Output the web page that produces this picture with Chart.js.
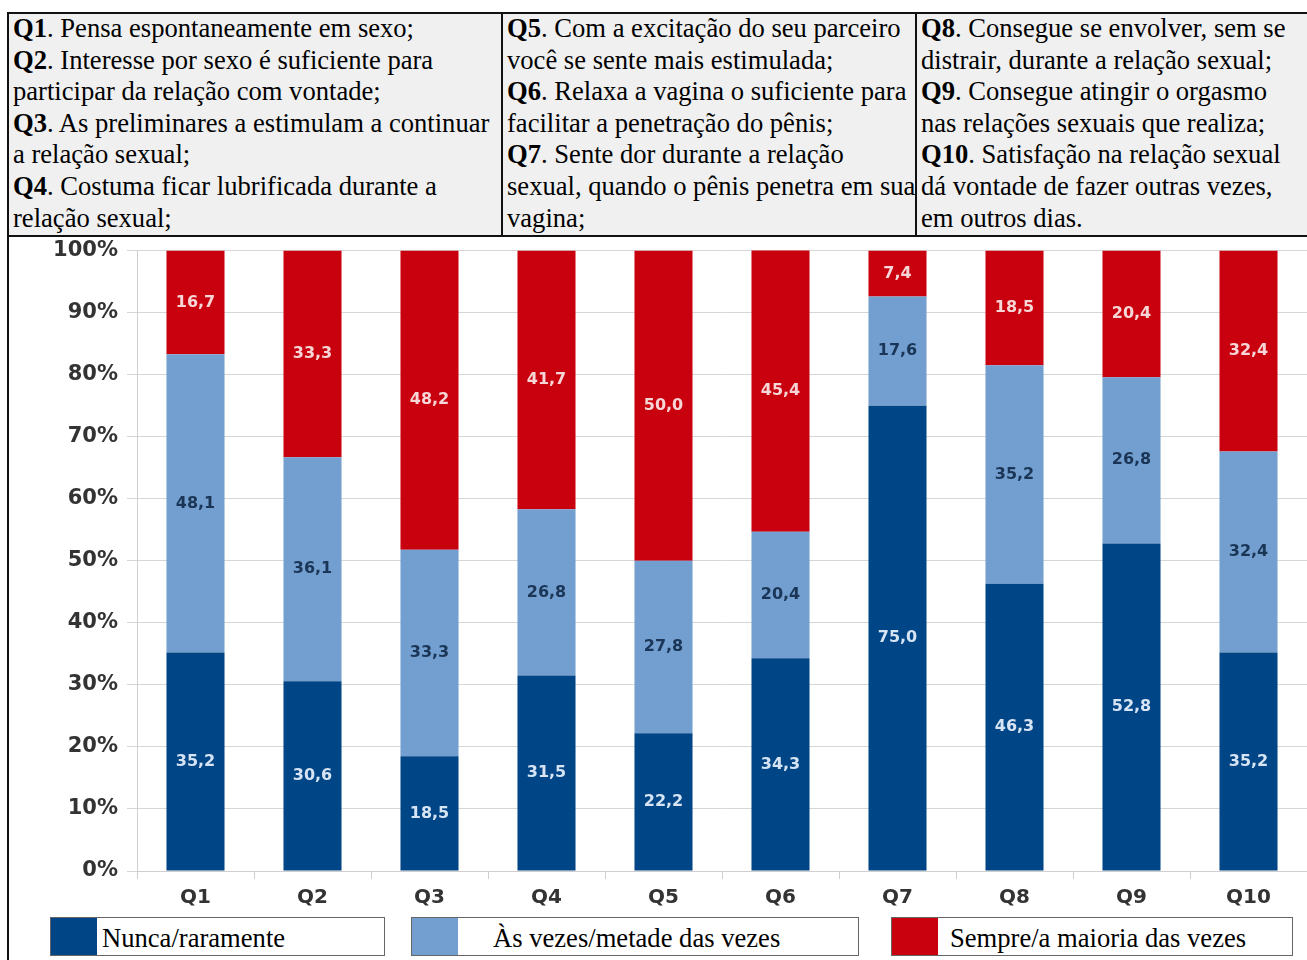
<!DOCTYPE html>
<html lang="pt">
<head>
<meta charset="utf-8">
<title>Questões Q1–Q10</title>
<script src="https://cdn.jsdelivr.net/npm/chart.js@4"></script>
<style>
  html, body {
    margin: 0;
    padding: 0;
    background: #ffffff;
    width: 1307px;
    height: 960px;
    overflow: hidden;
  }
  .frame {
    position: absolute;
    left: 7px;
    top: 12px;
    width: 1304px;
    height: 960px;
    border-left: 2px solid #111;
    border-top: 2px solid #111;
  }
  .questions {
    position: absolute;
    left: 0;
    top: 0;
    height: 221px;
    width: 1304px;
    background: #f0f0f0;
    border-bottom: 2px solid #111;
    font-family: "Liberation Serif", "Times New Roman", serif;
    font-size: 26.6px;
    line-height: 31.6px;
    color: #000;
    white-space: nowrap;
  }
  .questions .col {
    position: absolute;
    top: -1px;
    height: 222px;
    padding-left: 4px;
  }
  .questions .col + .col {
    border-left: 2px solid #111;
  }
  .chart-box {
    position: absolute;
    left: 9px;
    top: 229px;
    width: 1298px;
    height: 683px;
  }
  .legend-item {
    position: absolute;
    top: 917px;
    height: 37px;
    border: 1px solid #666;
    background: #fff;
    font-family: "Liberation Serif", "Times New Roman", serif;
    font-size: 26.6px;
    line-height: 37px;
    white-space: nowrap;
  }
  .legend-item .swatch {
    position: absolute;
    left: 0;
    top: 0;
    width: 46px;
    height: 37px;
  }
  .legend-item .text {
    position: absolute;
    top: 2px;
  }
</style>
</head>
<body>
<div class="frame">
  <div class="questions">
    <div class="col" style="left:0; width:488px;">
      <b>Q1</b>. Pensa espontaneamente em sexo;<br>
      <b>Q2</b>. Interesse por sexo é suficiente para<br>
      participar da relação com vontade;<br>
      <b>Q3</b>. As preliminares a estimulam a continuar<br>
      a relação sexual;<br>
      <b>Q4</b>. Costuma ficar lubrificada durante a<br>
      relação sexual;
    </div>
    <div class="col" style="left:492px; width:408px;">
      <b>Q5</b>. Com a excitação do seu parceiro<br>
      você se sente mais estimulada;<br>
      <b>Q6</b>. Relaxa a vagina o suficiente para<br>
      facilitar a penetração do pênis;<br>
      <b>Q7</b>. Sente dor durante a relação<br>
      sexual, quando o pênis penetra em sua<br>
      vagina;
    </div>
    <div class="col" style="left:906px; width:394px;">
      <b>Q8</b>. Consegue se envolver, sem se<br>
      distrair, durante a relação sexual;<br>
      <b>Q9</b>. Consegue atingir o orgasmo<br>
      nas relações sexuais que realiza;<br>
      <b>Q10</b>. Satisfação na relação sexual<br>
      dá vontade de fazer outras vezes,<br>
      em outros dias.
    </div>
  </div>
</div>

<div class="chart-box"><canvas id="stackChart"></canvas></div>
<div id="legend"></div>

<script>
// Respostas por questão (%)
const categories = ['Q1', 'Q2', 'Q3', 'Q4', 'Q5', 'Q6', 'Q7', 'Q8', 'Q9', 'Q10'];
const nunca = [35.2, 30.6, 18.5, 31.5, 22.2, 34.3, 75.0, 46.3, 52.8, 35.2];
const asVezes = [48.1, 36.1, 33.3, 26.8, 27.8, 20.4, 17.6, 35.2, 26.8, 32.4];
const sempre = [16.7, 33.3, 48.2, 41.7, 50.0, 45.4, 7.4, 18.5, 20.4, 32.4];
const seriesNames = ['Nunca/raramente', 'Às vezes/metade das vezes', 'Sempre/a maioria das vezes'];

const barColors = ['#004586', '#729fcf', '#c9000e'];
const labelColors = ['#d6e4f4', '#1b3556', '#f6d6d6'];

// Valores escritos no meio de cada segmento
const segmentLabels = {
  id: 'segmentLabels',
  afterDatasetsDraw(chart) {
    const ctx = chart.ctx;
    ctx.save();
    ctx.font = 'bold 16px "DejaVu Sans", sans-serif';
    ctx.textAlign = 'center';
    ctx.textBaseline = 'middle';
    chart.data.datasets.forEach(function(ds, i) {
      const meta = chart.getDatasetMeta(i);
      ctx.fillStyle = labelColors[i];
      meta.data.forEach(function(bar, j) {
        const value = ds.data[j];
        const y = (bar.y + bar.base) / 2;
        ctx.fillText(value.toFixed(1).replace('.', ','), bar.x, y);
      });
    });
    ctx.restore();
  }
};

const ctx = document.getElementById('stackChart').getContext('2d');
new Chart(ctx, {
  type: 'bar',
  data: {
    labels: categories,
    datasets: [nunca, asVezes, sempre].map(function(values, i) {
      return {
        label: seriesNames[i],
        data: values,
        backgroundColor: barColors[i],
        borderWidth: 0,
        categoryPercentage: 1,
        barPercentage: 0.496
      };
    })
  },
  options: {
    responsive: true,
    maintainAspectRatio: false,
    animation: false,
    layout: {
      padding: { top: 4, right: 0, bottom: 0, left: 0 }
    },
    plugins: {
      legend: { display: false },
      tooltip: { enabled: false }
    },
    scales: {
      x: {
        stacked: true,
        afterFit: function(scale) { scale.height = 41; },
        grid: {
          drawOnChartArea: false,
          drawTicks: true,
          tickLength: 8,
          color: '#cfcfcf'
        },
        border: { color: '#cfcfcf' },
        ticks: {
          color: '#333333',
          padding: 7,
          font: { family: '"DejaVu Sans", sans-serif', size: 20, weight: 'bold' }
        }
      },
      y: {
        stacked: true,
        min: 0,
        max: 100,
        afterFit: function(scale) { scale.width = 128; },
        grid: {
          color: '#d6d6d6',
          tickLength: 10
        },
        border: { color: '#cfcfcf' },
        ticks: {
          stepSize: 10,
          color: '#333333',
          padding: 9,
          font: { family: '"DejaVu Sans", sans-serif', size: 21, weight: 'bold' },
          callback: function(v) { return v + '%'; }
        }
      }
    }
  },
  plugins: [segmentLabels]
});

// Legenda em caixas abaixo do gráfico
const legendBoxes = [
  { left: 50, width: 333, textLeft: 51 },
  { left: 411, width: 446, textLeft: 81 },
  { left: 891, width: 400, textLeft: 58 }
];
const legendEl = document.getElementById('legend');
seriesNames.forEach(function(name, i) {
  const box = legendBoxes[i];
  const item = document.createElement('div');
  item.className = 'legend-item';
  item.style.left = box.left + 'px';
  item.style.width = box.width + 'px';
  item.innerHTML = '<span class="swatch" style="background:' + barColors[i] + '"></span>' +
    '<span class="text" style="left:' + box.textLeft + 'px">' + name + '</span>';
  legendEl.appendChild(item);
});
</script>
</body>
</html>
